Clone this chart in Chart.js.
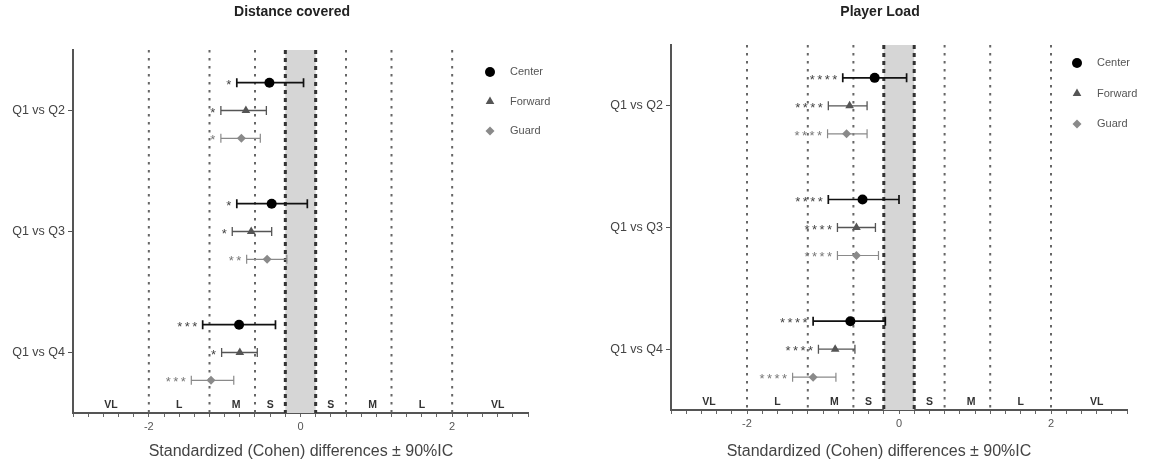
<!DOCTYPE html>
<html>
<head>
<meta charset="utf-8">
<script src="https://cdn.jsdelivr.net/npm/chart.js@4.4.1/dist/chart.umd.min.js"></script>
<style>
  html, body { margin: 0; padding: 0; background: #fff; }
  canvas { position: absolute; top: 0; }
</style>
</head>
<body>
<canvas id="distance" style="left:0" width="575" height="465"></canvas>
<canvas id="load" style="left:575px" width="574" height="465"></canvas>
<script>
const comparisons = ['Q1 vs Q2', 'Q1 vs Q3', 'Q1 vs Q4']
const positions = ['Center', 'Forward', 'Guard']
const xTickLabels = [-2, 0, 2]

// [effect size, lower 90% CI, upper 90% CI] for each comparison
const distanceCenter = [[-0.41, -0.84, 0.04], [-0.38, -0.84, 0.09], [-0.81, -1.29, -0.33]]
const distanceForward = [[-0.72, -1.05, -0.45], [-0.65, -0.90, -0.38], [-0.80, -1.04, -0.57]]
const distanceGuard = [[-0.78, -1.05, -0.53], [-0.44, -0.71, -0.18], [-1.18, -1.44, -0.88]]

const loadCenter = [[-0.32, -0.74, 0.10], [-0.48, -0.93, 0.00], [-0.64, -1.13, -0.18]]
const loadForward = [[-0.65, -0.93, -0.42], [-0.56, -0.81, -0.31], [-0.84, -1.06, -0.58]]
const loadGuard = [[-0.69, -0.94, -0.42], [-0.56, -0.81, -0.27], [-1.13, -1.40, -0.83]]

// significance marks printed left of each interval
const distanceCenterStars = ['*', '*', '***']
const distanceForwardStars = ['*', '*', '*']
const distanceGuardStars = ['*', '**', '***']
const loadCenterStars = ['****', '****', '****']
const loadForwardStars = ['****', '****', '****']
const loadGuardStars = ['****', '****', '****']

// Cohen magnitude thresholds and zone names
const trivialBand = [-0.2, 0.2]
const thresholds = [-2, -1.2, -0.6, 0.6, 1.2, 2]
const zoneLabels = ['VL', 'L', 'M', 'S', 'S', 'M', 'L', 'VL']
const zoneCenters = [-2.5, -1.6, -0.85, -0.4, 0.4, 0.95, 1.6, 2.6]

const FONT = "'Liberation Sans', Arial, sans-serif"

const seriesStyle = {
  Center: { color: '#000000', bar: '#111111', pointStyle: 'circle', radius: 5, barWidth: 1.7 },
  Forward: { color: '#555555', bar: '#555555', pointStyle: 'triangle', radius: 5, barWidth: 1.3 },
  Guard: { color: '#8a8a8a', bar: '#8a8a8a', pointStyle: 'rectRot', radius: 4.5, barWidth: 1.2 }
}
const rowOffset = { Center: -0.23, Forward: 0, Guard: 0.23 }

const effectPlugin = {
  id: 'effects',
  beforeDatasetsDraw(chart) {
    const { ctx, chartArea: a, scales: { x } } = chart
    const vline = (v) => {
      const px = x.getPixelForValue(v)
      ctx.beginPath()
      ctx.moveTo(px, a.top)
      ctx.lineTo(px, a.bottom)
      ctx.stroke()
    }

    ctx.save()
    const b0 = x.getPixelForValue(trivialBand[0])
    const b1 = x.getPixelForValue(trivialBand[1])
    ctx.fillStyle = '#d6d6d6'
    ctx.fillRect(b0, a.top, b1 - b0, a.bottom - a.top)

    ctx.strokeStyle = '#333'
    ctx.lineWidth = 3
    ctx.setLineDash([4, 4])
    trivialBand.forEach(vline)

    ctx.strokeStyle = '#666'
    ctx.lineWidth = 2
    ctx.setLineDash([2.5, 5.5])
    thresholds.forEach(vline)
    ctx.setLineDash([])

    // confidence intervals with end caps
    chart.data.datasets.forEach((ds, i) => {
      const meta = chart.getDatasetMeta(i)
      const st = seriesStyle[ds.label]
      ctx.strokeStyle = st.bar
      ctx.lineWidth = st.barWidth
      ds.ci.forEach((row, j) => {
        const y = meta.data[j].y
        const lo = x.getPixelForValue(row[1])
        const hi = x.getPixelForValue(row[2])
        ctx.beginPath()
        ctx.moveTo(lo, y)
        ctx.lineTo(hi, y)
        ctx.moveTo(lo, y - 4.5)
        ctx.lineTo(lo, y + 4.5)
        ctx.moveTo(hi, y - 4.5)
        ctx.lineTo(hi, y + 4.5)
        ctx.stroke()
      })
    })
    ctx.restore()
  },
  afterDatasetsDraw(chart, args, opts) {
    const { ctx, chartArea: a, scales: { x } } = chart
    ctx.save()

    // stars, one glyph at a time so they spread like the original marks
    ctx.font = `13px ${FONT}`
    ctx.textAlign = 'center'
    ctx.textBaseline = 'alphabetic'
    chart.data.datasets.forEach((ds, i) => {
      const meta = chart.getDatasetMeta(i)
      ctx.fillStyle = ds.label === 'Guard' ? '#777' : '#444'
      ds.stars.forEach((s, j) => {
        const lo = x.getPixelForValue(ds.ci[j][1])
        for (let c = 0; c < s.length; c++) {
          ctx.fillText('*', lo - 8 - c * 7.5, meta.data[j].y + 6)
        }
      })
    })

    // magnitude zone names
    ctx.font = `bold 10.5px ${FONT}`
    ctx.fillStyle = '#333'
    ctx.textAlign = 'center'
    ctx.textBaseline = 'middle'
    zoneLabels.forEach((z, k) => ctx.fillText(z, x.getPixelForValue(zoneCenters[k]), a.bottom - 8))

    // legend
    ctx.font = `11px ${FONT}`
    ctx.textAlign = 'left'
    positions.forEach((name, k) => {
      const st = seriesStyle[name]
      const lx = a.right - opts.legendInset
      const ly = a.top + opts.legendTop + k * opts.legendGap
      ctx.fillStyle = st.color
      ctx.strokeStyle = st.color
      Chart.helpers.drawPoint(ctx, { pointStyle: st.pointStyle, radius: st.radius, rotation: 0, borderWidth: 0 }, lx, ly)
      ctx.fillStyle = '#555'
      ctx.fillText(name, lx + 20, ly)
    })

    // panel title and axis title
    ctx.fillStyle = '#222'
    ctx.textAlign = 'center'
    ctx.font = `bold 14px ${FONT}`
    ctx.fillText(opts.title, opts.titleX, 12)
    ctx.fillStyle = '#444'
    ctx.font = `16px ${FONT}`
    ctx.fillText('Standardized (Cohen) differences \u00b1 90%IC', opts.axisTitleX, 452)
    ctx.restore()
  }
}

function buildPanel(id, g) {
  const datasets = positions.map((name, k) => {
    const st = seriesStyle[name]
    return {
      label: name,
      data: g.series[k].map((row, j) => ({ x: row[0], y: j + 1 + rowOffset[name] })),
      ci: g.series[k],
      stars: g.stars[k],
      pointStyle: st.pointStyle,
      pointRadius: st.radius,
      backgroundColor: st.color,
      borderColor: st.color,
      borderWidth: 0
    }
  })

  return new Chart(document.getElementById(id), {
    type: 'scatter',
    data: { datasets },
    plugins: [effectPlugin],
    options: {
      responsive: false,
      animation: false,
      layout: { padding: { left: 0, right: g.padRight, top: g.padTop, bottom: 0 } },
      plugins: {
        legend: { display: false },
        tooltip: { enabled: false },
        effects: g
      },
      scales: {
        x: {
          type: 'linear',
          min: -3,
          max: 3,
          afterBuildTicks(scale) {
            const t = []
            for (let i = -15; i <= 15; i++) t.push({ value: i / 5 })
            scale.ticks = t
          },
          afterFit(scale) { scale.height = g.xAxisHeight },
          ticks: {
            autoSkip: false,
            maxRotation: 0,
            padding: 3,
            color: '#555',
            font: { family: FONT, size: 11 },
            callback: (v) => xTickLabels.some(t => Math.abs(t - v) < 1e-6) ? String(Math.round(v)) : ''
          },
          grid: { drawOnChartArea: false, tickLength: 4, color: '#666' },
          border: { color: '#555', width: 2 }
        },
        y: {
          type: 'linear',
          min: 0.5,
          max: 3.5,
          reverse: true,
          afterBuildTicks(scale) {
            scale.ticks = comparisons.map((_, i) => ({ value: i + 1 }))
          },
          afterFit(scale) { scale.width = g.yAxisWidth },
          ticks: {
            autoSkip: false,
            padding: 3,
            color: '#444',
            font: { family: FONT, size: 12.5 },
            callback: (v) => comparisons[Math.round(v) - 1]
          },
          grid: { drawOnChartArea: false, tickLength: 5, color: '#555' },
          border: { color: '#555', width: 2 }
        }
      }
    }
  })
}

buildPanel('distance', {
  title: 'Distance covered',
  series: [distanceCenter, distanceForward, distanceGuard],
  stars: [distanceCenterStars, distanceForwardStars, distanceGuardStars],
  yAxisWidth: 73,
  xAxisHeight: 52,
  padTop: 50,
  padRight: 47,
  titleX: 292,
  axisTitleX: 301,
  legendInset: 38,
  legendTop: 22,
  legendGap: 29.5
})

buildPanel('load', {
  title: 'Player Load',
  series: [loadCenter, loadForward, loadGuard],
  stars: [loadCenterStars, loadForwardStars, loadGuardStars],
  yAxisWidth: 96,
  xAxisHeight: 55,
  padTop: 45,
  padRight: 22,
  titleX: 305,
  axisTitleX: 304,
  legendInset: 50,
  legendTop: 18,
  legendGap: 30.5
})
</script>
</body>
</html>
